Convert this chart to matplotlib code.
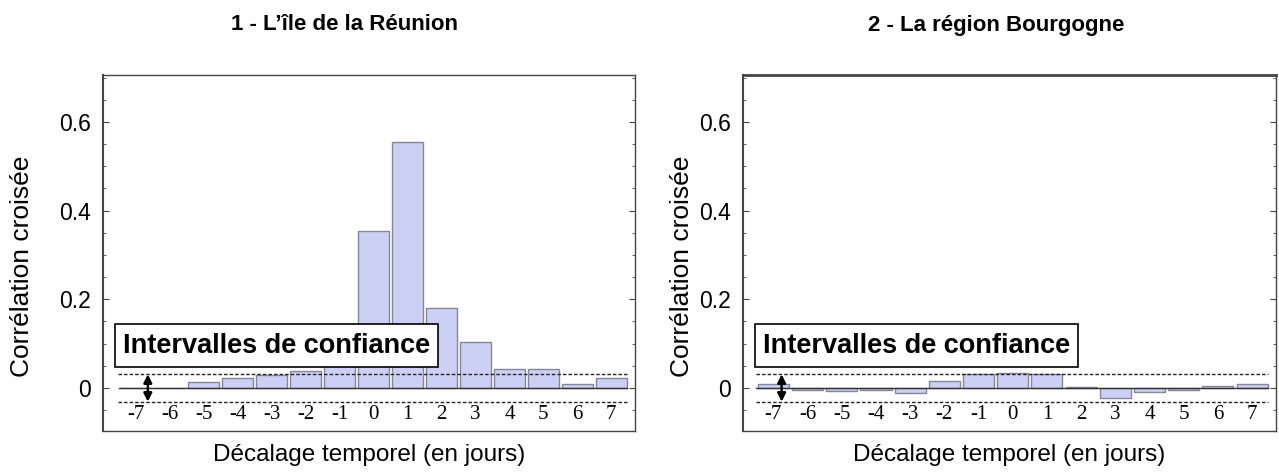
import matplotlib
matplotlib.use('Agg')
import matplotlib.pyplot as plt
import numpy as np
from matplotlib.ticker import MultipleLocator

# Data
lags = list(range(-7, 8))
reunion = [0.0, 0.0, 0.0135, 0.0226, 0.0286, 0.038, 0.065, 0.353, 0.556,
           0.180, 0.104, 0.043, 0.043, 0.0098, 0.0226]
bourgogne = [0.0083, -0.004, -0.006, -0.004, -0.0105, 0.0165, 0.031, 0.0346,
             0.031, 0.0015, -0.0218, -0.0083, -0.005, 0.0053, 0.0098]
conf = 0.031
titles = ["1 - L\u2019île de la Réunion", "2 - La région Bourgogne"]
ytick_vals = [0, 0.2, 0.4, 0.6]
ytick_labels = ["0", "0.2", "0.4", "0.6"]

BAR_FILL = '#cbd0f4'
BAR_EDGE = '#858799'

fig = plt.figure(figsize=(12.79, 4.75), dpi=100)

panels = [
    # axes rect, xlim, arrow x, title x, ylabel x
    dict(rect=[103/1279, 44/475, 532/1279, 356/475], xlim=(-7.97, 7.70),
         arrow_x=-6.65, title_x=345/1279, ylab_x=22/1279, top_lw=1.0,
         values=reunion),
    dict(rect=[743/1279, 44/475, 533/1279, 356/475], xlim=(-7.89, 7.70),
         arrow_x=-6.76, title_x=996/1279, ylab_x=682/1279, top_lw=2.0,
         values=bourgogne),
]

for i, p in enumerate(panels):
    ax = fig.add_axes(p['rect'])
    ax.set_xlim(*p['xlim'])
    ax.set_ylim(-0.097, 0.706)

    ax.bar(lags, p['values'], width=0.91, color=BAR_FILL,
           edgecolor=BAR_EDGE, linewidth=1.0, zorder=2)

    # zero axis and confidence bounds
    ax.plot([-7.5, 7.47], [0, 0], color='#333333', lw=1.0, zorder=3)
    for c in (conf, -conf):
        ax.plot([-7.52, 7.47], [c, c], color='#222222', lw=1.0,
                ls=(0, (2.5, 1.5)), zorder=4)
    ax.annotate('', xy=(p['arrow_x'], conf), xytext=(p['arrow_x'], -conf),
                arrowprops=dict(arrowstyle='<|-|>', color='black', lw=1.8,
                                mutation_scale=12, shrinkA=0, shrinkB=0),
                zorder=5)

    # tick labels drawn inside the frame
    for lag in lags:
        ax.text(lag, -0.06, str(lag), ha='center', va='center',
                fontsize=15, family='Liberation Serif')

    ax.text(0.326, 0.240, "Intervalles de confiance", transform=ax.transAxes,
            ha='center', va='center', fontsize=19.5, fontweight='bold',
            family='Liberation Sans', zorder=6,
            bbox=dict(boxstyle='square,pad=0.3', fc='white', ec='black', lw=1.2))

    ax.set_xticks([])
    ax.set_yticks(ytick_vals)
    ax.set_yticklabels(ytick_labels, fontsize=16.5, family='Liberation Sans')
    ax.yaxis.set_minor_locator(MultipleLocator(0.05))
    ax.tick_params(axis='y', which='both', direction='in', left=True,
                   right=True, color='#444444', pad=9)
    ax.tick_params(axis='y', which='major', length=4)
    ax.tick_params(axis='y', which='minor', length=2)
    for s in ax.spines.values():
        s.set_color('#444444')
        s.set_linewidth(1.0)
    ax.spines['top'].set_linewidth(p['top_lw'])
    ax.spines['left'].set_linewidth(1.5)

    fig.text(p['title_x'], 1 - 25/475, titles[i], ha='center', va='center',
             fontsize=16, fontweight='bold', family='Liberation Sans')
    fig.text(p['ylab_x'], 1 - 266/475, "Corrélation croisée", rotation=90,
             ha='center', va='center', fontsize=19, family='Liberation Sans')
    fig.text(p['rect'][0] + p['rect'][2] / 2, 1 - 455/475,
             "Décalage temporel (en jours)", ha='center', va='center',
             fontsize=17.5, family='Liberation Sans')

fig.savefig('out.png', dpi=100)
